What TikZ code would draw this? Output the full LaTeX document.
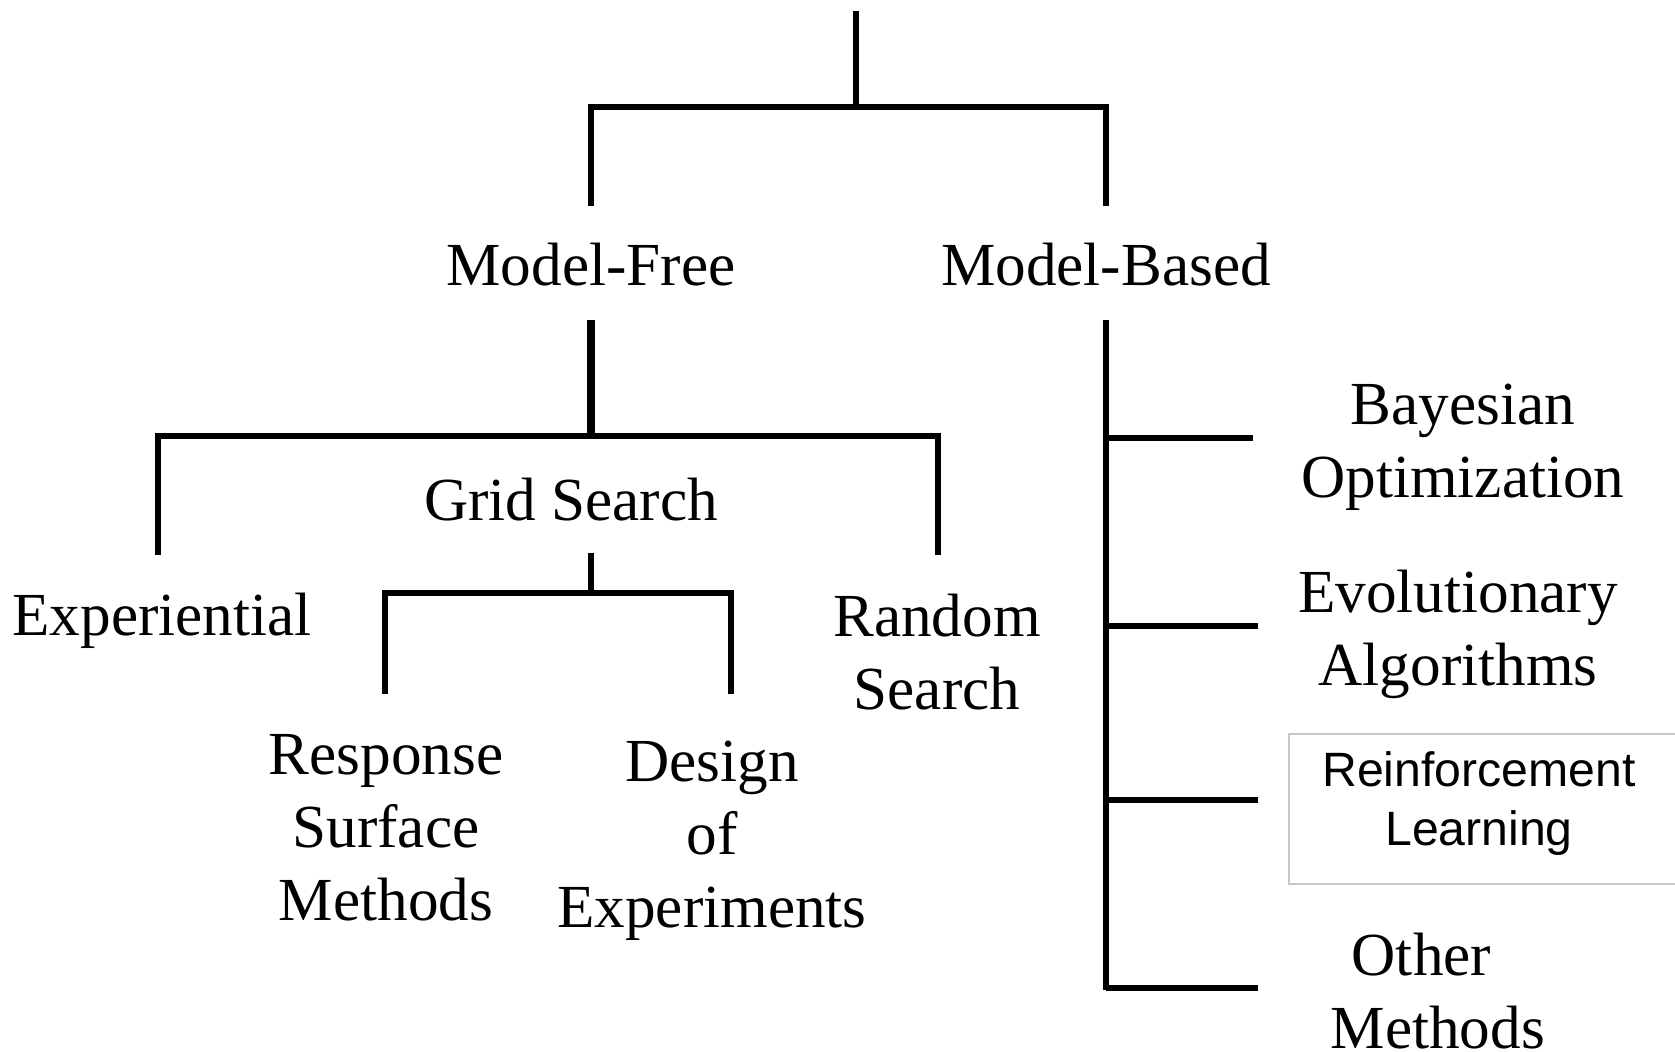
\documentclass[tikz,border=0pt]{standalone}
\usepackage{fontspec}
\setmainfont{Liberation Serif}
\newfontfamily\boxsans{Liberation Sans}
\begin{document}
\begin{tikzpicture}[x=0.01cm,y=-0.01cm,
  lbl/.style={inner sep=0pt,align=center,font=\fontsize{17.4}{20.8}\selectfont},
  sanslbl/.style={inner sep=0pt,align=center,font=\boxsans\fontsize{13.7}{16.8}\selectfont},
  link/.style={line width=1.5pt,line join=miter},
  heavy/.style={line width=2pt,line join=miter}]
\useasboundingbox (0,0) rectangle (1675,1052);

% labels
\node[lbl] (mf) at (591,265) {Model-Free};
\node[lbl] (mb) at (1106,265) {Model-Based};
\node[lbl] (gs) at (571,500) {Grid Search};
\node[lbl] (ex) at (162,621) {Experiential};
\node[lbl] (rs) at (937,652) {Random\\Search};
\node[lbl] (rsm) at (386,828) {Response\\Surface\\Methods};
\node[lbl] (doe) at (712,841) {Design\\of\\Experiments};
\node[lbl] (bo) at (1463,447) {Bayesian\\Optimization};
\node[lbl] (ea) at (1458,634) {Evolutionary\\Algorithms};
\node[sanslbl] (rl) at (1479,804) {Reinforcement\\Learning};
\node[lbl,align=left,anchor=west] (om) at (1330,991) {\hspace{6pt}Other\\Methods};

% frame around the reinforcement learning entry
\draw[gray!45,line width=0.4pt] (1675,734) -- (1289,734) -- (1289,884) -- (1675,884);

% junction points
\coordinate (root) at (856,11);
\coordinate (rootj) at (856,107);
\coordinate (mfTop) at (591,206);
\coordinate (mbTop) at (1106,206);
\coordinate (mfBot) at (591,320);
\coordinate (mfj) at (591,436);
\coordinate (exTop) at (158,555);
\coordinate (rsTop) at (938,555);
\coordinate (gsBot) at (591,553);
\coordinate (gsj) at (591,593);
\coordinate (rsmTop) at (385,694);
\coordinate (doeTop) at (731,694);
\coordinate (mbBot) at (1106,320);
\coordinate (mbEnd) at (1106,990);
\coordinate (boJ) at (1106,438);
\coordinate (eaJ) at (1106,626);
\coordinate (rlJ) at (1106,800);
\coordinate (omJ) at (1106,988);

% top level split
\draw[link] (root) -- (rootj);
\draw[link] (mfTop) |- (rootj) -| (mbTop);

% model-free branch
\draw[heavy] (mfBot) -- (mfj);
\draw[link] (exTop) |- (mfj) -| (rsTop);

% grid search branch
\draw[link] (gsBot) -- (gsj);
\draw[link] (rsmTop) |- (gsj) -| (doeTop);

% model-based branch
\draw[link] (mbBot) -- (mbEnd);
\draw[link] (boJ) -- ++(147,0);
\draw[link] (eaJ) -- ++(152,0);
\draw[link] (rlJ) -- ++(152,0);
\draw[link] (omJ) -- ++(152,0);
\end{tikzpicture}
\end{document}
